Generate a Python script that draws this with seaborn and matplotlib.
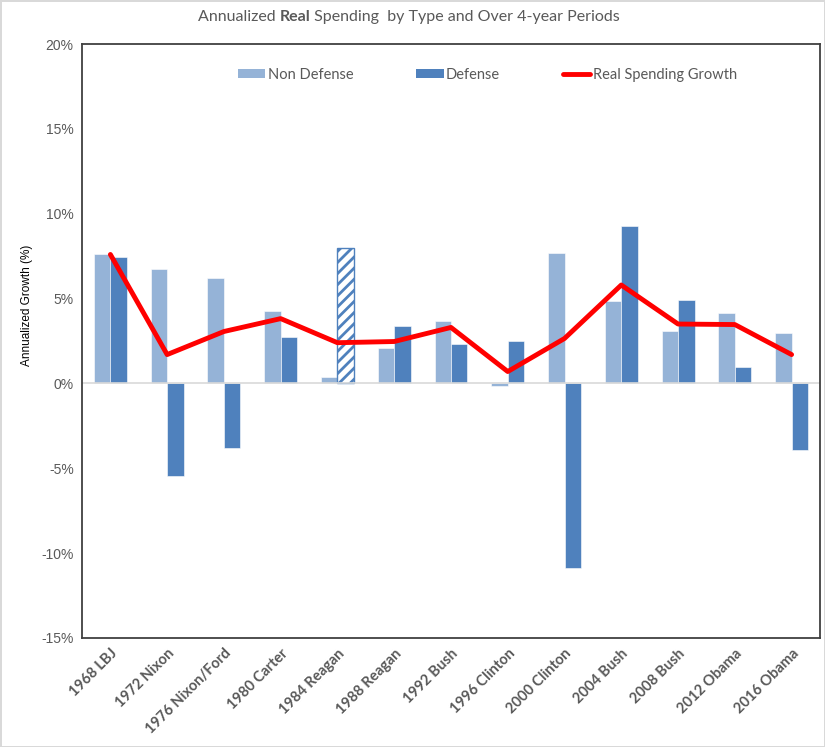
import matplotlib
matplotlib.use("Agg")
import matplotlib.pyplot as plt
from matplotlib.patches import Patch
from matplotlib.lines import Line2D
import seaborn as sns
import pandas as pd

# Four-year presidential periods
periods = ["1968 LBJ", "1972 Nixon", "1976 Nixon/Ford", "1980 Carter", "1984 Reagan",
           "1988 Reagan", "1992 Bush", "1996 Clinton", "2000 Clinton", "2004 Bush",
           "2008 Bush", "2012 Obama", "2016 Obama"]

# Annualized real growth (%) by spending type
non_defense = [7.65, 6.76, 6.2, 4.24, 0.4, 2.06, 3.7, -0.18, 7.7, 4.88, 3.1, 4.16, 2.98]
defense = [7.47, -5.47, -3.8, 2.76, 8.0, 3.37, 2.35, 2.5, -10.9, 9.25, 4.94, 0.94, -3.94]
total_growth = [7.6, 1.7, 3.06, 3.82, 2.4, 2.47, 3.3, 0.7, 2.65, 5.8, 3.5, 3.47, 1.7]

yticks = [-15, -10, -5, 0, 5, 10, 15, 20]

c_nd = "#95B3D7"
c_d = "#4F81BD"
c_line = "#FF0000"
c_text = "#595959"

sns.set_theme(style="white")
plt.rcParams["hatch.linewidth"] = 2.0

bars = pd.DataFrame({
    "period": periods * 2,
    "type": ["Non Defense"] * len(periods) + ["Defense"] * len(periods),
    "growth": non_defense + defense,
})
line = pd.DataFrame({"period": periods, "growth": total_growth})

fig = plt.figure(figsize=(8.25, 7.47), dpi=100)
fig.patch.set_edgecolor("#D9D9D9")
fig.patch.set_linewidth(2)
ax = fig.add_axes([0.0994, 0.146, 0.8945, 0.795])

sns.barplot(data=bars, x="period", y="growth", hue="type", order=periods,
            hue_order=["Non Defense", "Defense"], palette=[c_nd, c_d],
            width=0.58, gap=0, saturation=1, errorbar=None, legend=False, ax=ax,
            edgecolor="white", linewidth=0.4)

# 1984 Reagan defense bar shown hatched
hb = ax.containers[1][periods.index("1984 Reagan")]
hb.set_facecolor("white")
hb.set_edgecolor(c_d)
hb.set_hatch("///")
hb.set_linewidth(1.0)

ax.axhline(0, color="#D9D9D9", lw=1.2, zorder=1)

sns.pointplot(data=line, x="period", y="growth", order=periods, color=c_line,
              markers="", linestyles="-", errorbar=None, ax=ax)
for ln in ax.lines[1:]:
    ln.set_linewidth(3.5)
    ln.set_zorder(5)

ax.set_xlim(-0.5, len(periods) - 0.5)
ax.set_ylim(-15, 20)
ax.set_yticks(yticks)
ax.set_yticklabels([f"{t}%" for t in yticks], fontsize=10,
                   color=c_text, family="Liberation Sans")
ax.set_xticks(range(len(periods)))
ax.set_xticklabels(periods, rotation=45, ha="right", rotation_mode="anchor",
                   fontsize=10.5, fontweight="bold", color=c_text, family="Lato")
ax.tick_params(axis="both", length=0, pad=6)
ax.set_xlabel("")
ax.set_ylabel("Annualized Growth (%)", fontsize=8.5, color="black",
              family="Liberation Sans")
ax.yaxis.set_label_coords(-0.066, 0.56)

for sp in ax.spines.values():
    sp.set_visible(True)
    sp.set_color("#404040")
    sp.set_linewidth(1.3)

handles = [Patch(facecolor=c_nd, edgecolor="none", label="Non Defense"),
           Patch(facecolor=c_d, edgecolor="none", label="Defense"),
           Line2D([0], [0], color=c_line, lw=3.5, label="Real Spending Growth")]
leg = ax.legend(handles=handles, loc="center", bbox_to_anchor=(0.549, 0.948),
                ncol=3, frameon=False, handlelength=1.9, handleheight=0.6,
                handletextpad=0.15, columnspacing=4.3,
                prop={"family": "Lato", "size": 10.5})
for t in leg.get_texts():
    t.set_color(c_text)

# Title with the word "Real" in bold
t1 = fig.text(0.24, 0.977, "Annualized ", fontsize=11.5, color=c_text,
              family="Lato", va="center", ha="left")
t2 = ax.annotate("Real", xycoords=t1, xy=(1, 0), va="bottom", ha="left",
                 fontsize=11.5, color=c_text, family="Lato", fontweight="bold",
                 annotation_clip=False)
t3 = ax.annotate(" Spending  by Type and Over 4-year Periods", xycoords=t2,
                 xy=(1, 0), va="bottom", ha="left", fontsize=11.5, color=c_text,
                 family="Lato", annotation_clip=False)

fig.savefig("out.png", dpi=100)
